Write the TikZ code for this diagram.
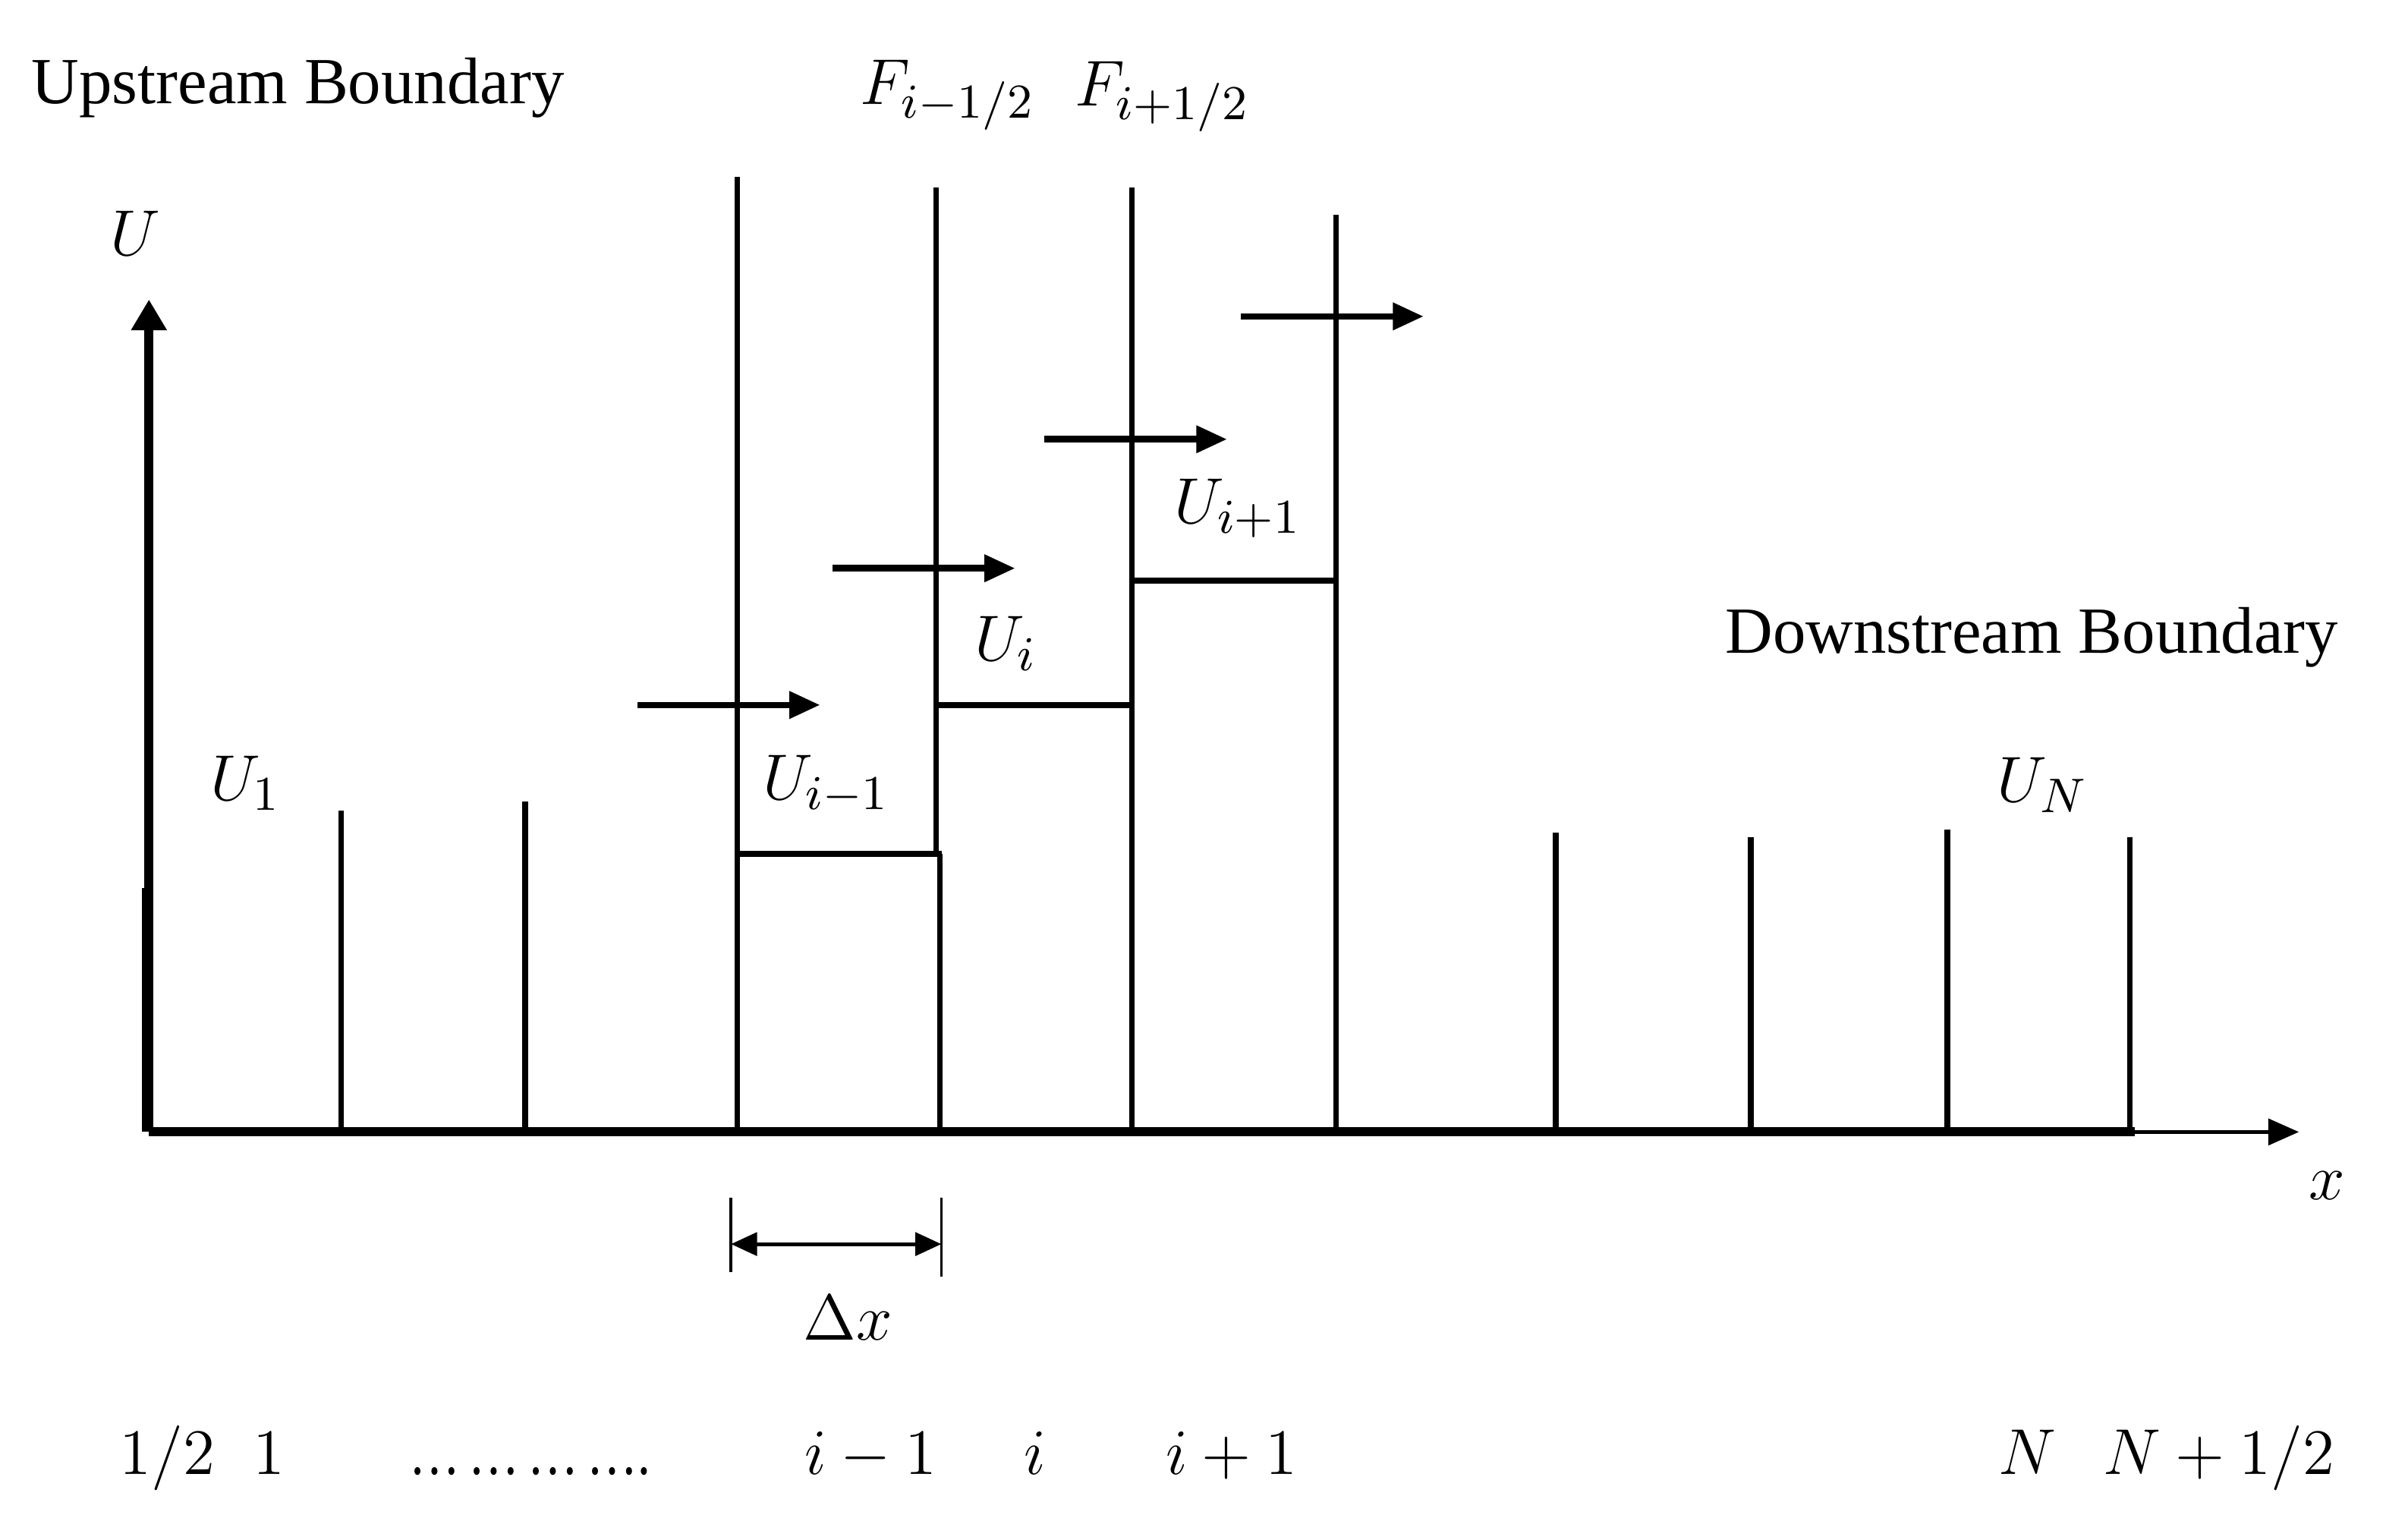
\documentclass[tikz,border=0pt]{standalone}
\usepackage{fontspec}
\usepackage{graphicx}
\setmainfont{Liberation Serif}
\usetikzlibrary{arrows.meta}
\begin{document}
\begin{tikzpicture}[x=0.01cm,y=-0.01cm,
  lbl/.style={inner sep=0pt,font=\fontsize{12.2}{14}\selectfont},
  blbl/.style={lbl,anchor=base},
  axis/.style={line width=1.7pt},
  cell/.style={line width=1.05pt},
  flux/.style={line width=1.2pt,-{Triangle[length=0.2cm,width=0.17cm]}},
  dimarrow/.style={line width=0.7pt,{Triangle[length=0.17cm,width=0.15cm]}-{Triangle[length=0.17cm,width=0.15cm]}},
  tick/.style={line width=0.5pt}]
\useasboundingbox (0,0) rectangle (1568,988);
% axes
\coordinate (O) at (97,737);
\coordinate (ytip) at (97,195);
\coordinate (xend) at (1390,737);
\coordinate (xtip) at (1497,737);
\draw[axis,-{Triangle[length=0.2cm,width=0.22cm]}] (O) -- (ytip);
\draw[line width=0.9pt] (94,578) -- (94,737);
\draw[axis] (O) -- (xend);
\draw[line width=0.75pt,-{Triangle[length=0.2cm,width=0.17cm]}] (xend) -- (xtip);
% cell boundaries
\foreach \n/\x/\t in {a/222/528, b/342/522, c/480/115, e/737/122, f/870/140, g/1013/542, h/1140/545, k/1268/540, m/1387/545}{
  \coordinate (\n0) at (\x,737);
  \coordinate (\n1) at (\x,\t);
  \draw[cell] (\n0) -- (\n1);
}
\coordinate (d1) at (609.5,122);
\coordinate (dm) at (609.5,556);
\coordinate (dm2) at (612,556);
\coordinate (d0) at (612,737);
\draw[cell] (d1) -- (dm);
\draw[cell] (dm2) -- (d0);
% steps
\draw[cell] (480,556) -- (613.5,556);
\draw[cell] (609.5,459) -- (737,459);
\draw[cell] (737,378) -- (870,378);
% flux arrows
\coordinate (fa0) at (415,459); \coordinate (fa1) at (534,459);
\coordinate (fb0) at (542,370); \coordinate (fb1) at (661,370);
\coordinate (fc0) at (680,286); \coordinate (fc1) at (799,286);
\coordinate (fd0) at (808,206); \coordinate (fd1) at (927,206);
\draw[flux] (fa0) -- (fa1);
\draw[flux] (fb0) -- (fb1);
\draw[flux] (fc0) -- (fc1);
\draw[flux] (fd0) -- (fd1);
% dimension
\coordinate (dl0) at (476,780); \coordinate (dl1) at (476,828);
\coordinate (dr0) at (613,780); \coordinate (dr1) at (613,831);
\draw[tick] (dl0) -- (dl1);
\draw[tick] (dr0) -- (dr1);
\coordinate (da) at (476,810); \coordinate (db) at (613,810);
\draw[dimarrow] (da) -- (db);
% labels
\node[lbl] (up) at (194,57) {Upstream Boundary};
\node[lbl] (fm) at (617,62) {$F_{i-1/2}$};
\node[lbl] (fp) at (757,63) {$F_{i+1/2}$};
\node[lbl] (uax) at (88,152) {$U$};
\node[lbl] (u1) at (160,510) {$U_1$};
\node[lbl] (uim) at (538,511) {$U_{i-1}$};
\node[lbl] (ui) at (655,419) {$U_i$};
\node[lbl] (uip) at (806,331) {$U_{i+1}$};
\node[lbl] (down) at (1323,415) {Downstream Boundary};
\node[lbl] (un) at (1330,511) {$U_N$};
\node[lbl] (xl) at (1515,772) {$x$};
\node[lbl] (dx) at (552,858) {$\Delta x$};
\node[blbl] (b1) at (109,960) {$1/2$};
\node[blbl] (b2) at (175,960) {$1$};
\node[blbl] (b3) at (345,960) {\scalebox{0.77}[1]{…\,…\,…\,….}};
\node[blbl] (b4) at (567,960) {$i-1$};
\node[blbl] (b5) at (674,960) {$i$};
\node[blbl] (b6) at (802,960) {$i+1$};
\node[blbl] (b7) at (1320,960) {$N$};
\node[blbl] (b8) at (1445,960) {$N+1/2$};
\end{tikzpicture}
\end{document}
